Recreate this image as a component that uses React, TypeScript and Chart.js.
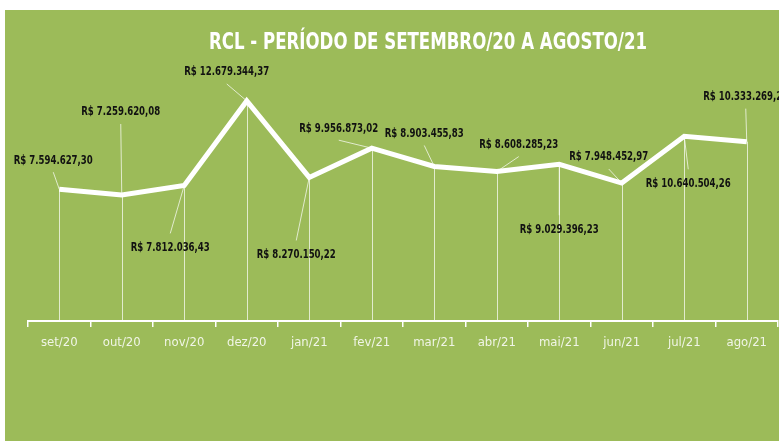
import React, { useEffect, useRef } from "react";
import { Chart, registerables } from "chart.js";

Chart.register(...registerables);

const TITLE = "RCL - PERÍODO DE SETEMBRO/20 A AGOSTO/21";
const categories = ["set/20", "out/20", "nov/20", "dez/20", "jan/21", "fev/21", "mar/21", "abr/21", "mai/21", "jun/21", "jul/21", "ago/21"];
const rcl = [7594627.30, 7259620.08, 7812036.43, 12679344.37, 8270150.22, 9956873.02, 8903455.83, 8608285.23, 9029396.23, 7948452.97, 10640504.26, 10333269.26];
// label centre offsets (px) relative to each point
const labelOffsets: [number, number][] = [[-6, -29], [-1, -83], [-14, 62], [-20, -29], [-13, 77], [-33, -20], [-10, -33], [22, -27], [0, 65], [-13, -26], [4, 47], [-1, -45]];

const GREEN = "#9cbb59";
const FONT_FAMILY = "'DejaVu Sans Condensed', 'DejaVu Sans', sans-serif";

function fmtBRL(v: number): string {
  const fixed = v.toFixed(2);
  const [intPart, dec] = fixed.split(".");
  const withDots = intPart.replace(/\B(?=(\d{3})+(?!\d))/g, ".");
  return "R$ " + withDots + "," + dec;
}

const decoPlugin = {
  id: "deco",
  beforeDatasetsDraw(chart: any) {
    const ctx = chart.ctx;
    const meta = chart.getDatasetMeta(0);
    const bottom = chart.chartArea.bottom;
    ctx.save();
    ctx.strokeStyle = "rgba(255,255,255,0.7)";
    ctx.lineWidth = 1;
    meta.data.forEach((pt: any) => {
      const x = Math.round(pt.x) + 0.5;
      ctx.beginPath();
      ctx.moveTo(x, pt.y);
      ctx.lineTo(x, bottom);
      ctx.stroke();
    });
    ctx.restore();
  },
  afterDatasetsDraw(chart: any) {
    const ctx = chart.ctx;
    const meta = chart.getDatasetMeta(0);
    ctx.save();
    ctx.font = "bold 13px " + FONT_FAMILY;
    ctx.textAlign = "center";
    ctx.textBaseline = "middle";
    const sx = 79 / ctx.measureText(fmtBRL(rcl[0])).width;
    meta.data.forEach((pt: any, i: number) => {
      const [dx, dy] = labelOffsets[i];
      const lx = pt.x + dx;
      const ly = pt.y + dy;
      const sy = ly + (dy < 0 ? 12 : -14);
      ctx.strokeStyle = "rgba(255,255,255,0.7)";
      ctx.lineWidth = 1;
      ctx.beginPath();
      ctx.moveTo(lx, sy);
      ctx.lineTo(pt.x, pt.y);
      ctx.stroke();
      ctx.save();
      ctx.translate(lx, ly);
      ctx.scale(sx, 1);
      ctx.fillStyle = "#111111";
      ctx.fillText(fmtBRL(rcl[i]), 0, 0);
      ctx.restore();
    });
    // title
    ctx.fillStyle = "#ffffff";
    ctx.font = "bold 23px " + FONT_FAMILY;
    const tsx = 438 / ctx.measureText(TITLE).width;
    ctx.translate(423, 33);
    ctx.scale(tsx, 1);
    ctx.fillText(TITLE, 0, 0);
    ctx.restore();
  },
};

export default function App() {
  const ref = useRef<HTMLCanvasElement>(null);
  useEffect(() => {
    if (!ref.current) return;
    const chart = new Chart(ref.current, {
      type: "line",
      data: {
        labels: categories,
        datasets: [
          {
            data: rcl,
            borderColor: "#ffffff",
            borderWidth: 5,
            pointRadius: 0,
            tension: 0,
            fill: false,
          },
        ],
      },
      options: {
        responsive: true,
        maintainAspectRatio: false,
        animation: false,
        layout: { padding: { top: 68, left: 23, right: 1, bottom: 0 } },
        plugins: { legend: { display: false }, tooltip: { enabled: false }, title: { display: false } },
        scales: {
          y: { display: false, min: 0, max: 14000000 },
          x: {
            offset: true,
            afterFit(scale: any) {
              scale.height = 120;
            },
            border: { display: true, color: "#ffffff", width: 2 },
            grid: {
              display: true,
              offset: true,
              drawOnChartArea: false,
              drawTicks: true,
              tickLength: 6,
              color: "#ffffff",
              lineWidth: 1.5,
            },
            ticks: {
              color: "rgba(255,255,255,0.85)",
              padding: 8,
              maxRotation: 0,
              font: { family: FONT_FAMILY, size: 13 },
            },
          },
        },
      },
      plugins: [decoPlugin],
    });
    return () => chart.destroy();
  }, []);
  return (
    <div style={{ position: "fixed", left: 5, top: 10, width: 774, height: 431, background: GREEN }}>
      <canvas ref={ref} />
    </div>
  );
}
